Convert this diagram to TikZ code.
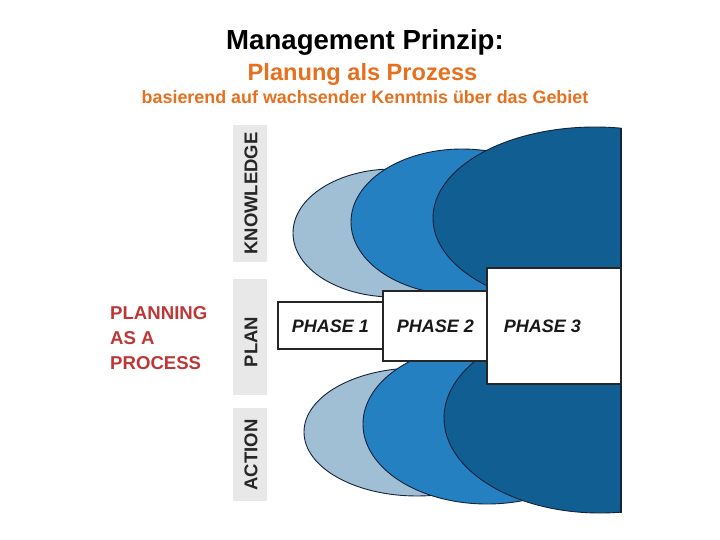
\documentclass[tikz,border=0pt]{standalone}
\usepackage{fontspec}
\setmainfont{Liberation Sans}
\definecolor{lightblue}{RGB}{160,190,212}
\definecolor{midblue}{RGB}{36,128,192}
\definecolor{darkblue}{RGB}{16,94,146}
\definecolor{edge}{RGB}{20,35,60}
\definecolor{orangetxt}{RGB}{230,112,30}
\definecolor{redtxt}{RGB}{190,55,55}
\definecolor{bargray}{RGB}{232,232,232}
\tikzset{
  blob/.style={draw=edge, line width=0.9pt},
  sidebar/.style={fill=bargray, draw=none},
  sidelabel/.style={rotate=90, font=\fontsize{18.5}{20}\selectfont\bfseries, text=black!85},
  phasebox/.style={draw=black!85, line width=1.3pt, fill=white},
  phasetext/.style={font=\fontsize{18}{20}\selectfont\bfseries\itshape, text=black!90},
  redline/.style={anchor=base west, inner sep=0pt, font=\fontsize{18.6}{20}\selectfont\bfseries, text=redtxt},
}
\begin{document}
\begin{tikzpicture}[x=1pt,y=-1pt]
\useasboundingbox (0,0) rectangle (720,540);
% titles
\node[anchor=base, font=\fontsize{27.6}{30}\selectfont\bfseries] (title) at (365,50) {Management Prinzip:};
\node[anchor=base, font=\fontsize{23.6}{26}\selectfont\bfseries, text=orangetxt] (sub) at (362.5,80.5) {Planung als Prozess};
\node[anchor=base, font=\fontsize{17.9}{20}\selectfont\bfseries, text=orangetxt] (sub2) at (365,103.5) {basierend auf wachsender Kenntnis über das Gebiet};
% side bars
\fill[sidebar] (233,125) rectangle (267,262);
\fill[sidebar] (233,279) rectangle (267,395);
\fill[sidebar] (233,408) rectangle (267,501);
\node[sidelabel] (know) at (251,193.5) {KNOWLEDGE};
\node[sidelabel] (plan) at (251,342) {PLAN};
\node[sidelabel] (action) at (251,455) {ACTION};
% planning as a process
\node[redline] (p1) at (110,319) {PLANNING};
\node[redline] (p2) at (110,344) {AS A};
\node[redline] (p3) at (110,369) {PROCESS};
% ellipses
\begin{scope}
\clip (0,0) rectangle (621,540);
\filldraw[blob, fill=lightblue] (393,233) ellipse [x radius=100pt, y radius=64pt];
\filldraw[blob, fill=midblue] (462,222) ellipse [x radius=111pt, y radius=73pt];
\filldraw[blob, fill=darkblue] (595,218) ellipse [x radius=162pt, y radius=91pt];
\filldraw[blob, fill=lightblue] (417,432) ellipse [x radius=113pt, y radius=64pt];
\filldraw[blob, fill=midblue] (487,424) ellipse [x radius=124pt, y radius=80pt];
\filldraw[blob, fill=darkblue] (600,418) ellipse [x radius=156pt, y radius=95pt];
\end{scope}
\coordinate (rt) at (621,128);
\coordinate (rb) at (621,512.5);
\draw[edge, line width=1.6pt] (rt) -- (rb);
% phase boxes
\draw[phasebox] (278,302) rectangle (383,349);
\draw[phasebox] (383,291) rectangle (487,361);
\draw[phasebox] (487,268) rectangle (621,384);
\node[phasetext] (ph1) at (330.5,326) {PHASE 1};
\node[phasetext] (ph2) at (435.5,326) {PHASE 2};
\node[phasetext] (ph3) at (542.5,326) {PHASE 3};
\end{tikzpicture}
\end{document}
